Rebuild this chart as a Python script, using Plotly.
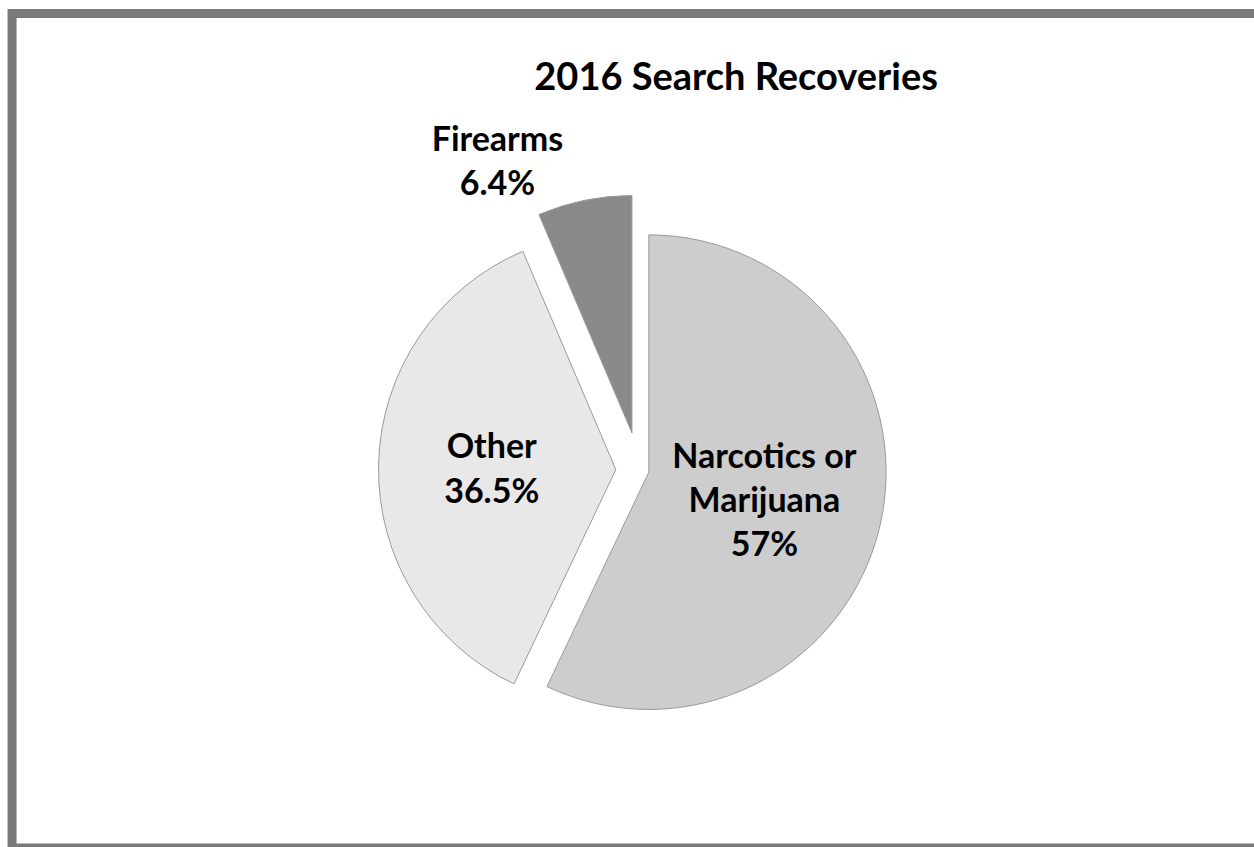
import plotly.graph_objects as go

categories = ["Narcotics or Marijuana", "Other", "Firearms"]
values = [57.0, 36.5, 6.4]
display_text = ["Narcotics or<br>Marijuana<br>57%", "Other<br>36.5%", "Firearms<br>6.4%"]
colors = ["#cdcdcd", "#e8e8e8", "#8a8a8a"]
pulls = [0.04, 0.10, 0.16]

fig = go.Figure()
fig.add_trace(go.Pie(
    labels=categories,
    values=values,
    text=display_text,
    textinfo="text",
    textposition=["inside", "inside", "outside"],
    insidetextorientation="horizontal",
    sort=False,
    direction="clockwise",
    rotation=0,
    pull=pulls,
    automargin=False,
    marker=dict(colors=colors, line=dict(color="#9a9a9a", width=1)),
    textfont=dict(family="Lato", size=34, color="#000000", weight="bold"),
    domain=dict(x=[0.08, 0.94], y=[0.12, 0.77]),
    showlegend=False,
    hoverinfo="label+percent",
))

fig.update_layout(
    width=1254, height=847,
    margin=dict(l=0, r=0, t=0, b=0, autoexpand=False),
    paper_bgcolor="white",
    plot_bgcolor="white",
    title=dict(text="2016 Search Recoveries", x=0.587, xanchor="center", y=0.909, yanchor="middle",
               font=dict(family="Lato", size=38, color="#000000", weight="bold")),
    shapes=[dict(type="rect", xref="paper", yref="paper", x0=0.0096, x1=1.02, y0=-0.0012, y1=0.984,
                 line=dict(color="#7a7a7a", width=9))],
)

fig.write_html("out.html")
